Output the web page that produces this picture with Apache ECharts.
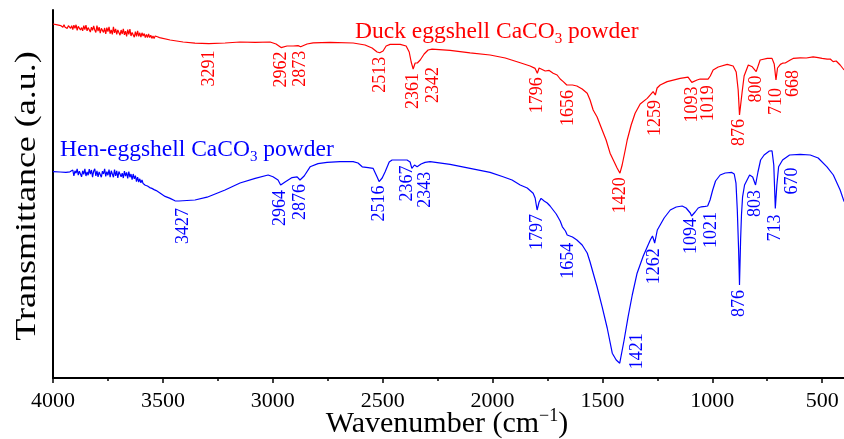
<!DOCTYPE html>
<html>
<head>
<meta charset="utf-8">
<title>FTIR spectra of eggshell CaCO3 powders</title>
<script src="https://cdn.jsdelivr.net/npm/echarts@6.0.0/dist/echarts.min.js"></script>
<style>
  html, body { margin: 0; padding: 0; background: #ffffff; }
  #chart { width: 844px; height: 439px; }
</style>
</head>
<body>
<div id="chart"></div>
<script>
// FTIR spectra (wavenumber in cm^-1, transmittance in arbitrary units, curves offset)
const duckWavenumber = [
  4000, 3980, 3965,
  3960, 3955, 3950, 3945, 3940, 3935, 3930, 3925, 3920, 3915,
  3910, 3905, 3900, 3895, 3890, 3885, 3880, 3875, 3870, 3865,
  3860, 3855, 3850, 3845, 3840, 3835, 3830, 3825, 3820, 3815,
  3810, 3805, 3800, 3795, 3790, 3785, 3780, 3775, 3770, 3765,
  3760, 3755, 3750, 3745, 3740, 3735, 3730, 3725, 3720, 3715,
  3710, 3705, 3700, 3695, 3690, 3685, 3680, 3675, 3670, 3665,
  3660, 3655, 3650, 3645, 3640, 3635, 3630, 3625, 3620, 3615,
  3610, 3605, 3600, 3595, 3590, 3585, 3580, 3575, 3570, 3565,
  3560, 3555, 3550, 3545, 3540, 3535, 3530, 3525, 3520, 3515,
  3467, 3408, 3354, 3291, 3217, 3149, 3080, 3012, 2985, 2962, 2935, 2907, 2885, 2873,
  2844, 2816, 2739, 2634, 2580, 2548, 2525, 2513, 2498, 2484, 2466, 2420, 2393, 2379, 2370, 2361,
  2352, 2347, 2342, 2329, 2311, 2293, 2275, 2193, 2102, 2011, 1942, 1874, 1829, 1806, 1796, 1788,
  1779, 1760, 1742, 1724, 1706, 1692, 1678, 1670, 1662, 1656, 1636, 1616, 1592, 1569, 1556, 1542,
  1524, 1501, 1483, 1465, 1446, 1433, 1420, 1410, 1396, 1387, 1369, 1351, 1328, 1296, 1269, 1259,
  1251, 1237, 1205, 1146, 1110, 1093, 1069, 1055, 1019, 1009, 996, 973, 932, 905, 891, 882,
  876, 864, 855, 836, 818, 800, 782, 750, 728, 718, 710, 703, 690, 680, 674, 668,
  645, 632, 600, 572, 541, 518, 500, 477, 463, 450, 436, 418, 400
];
const duckTransmittance = [
  88.5, 88.3, 88.1,
  88.2, 87.7, 88.3, 87.7, 88.0, 87.4, 88.1, 87.8, 87.4, 88.1,
  87.1, 88.2, 87.4, 88.3, 86.9, 87.9, 88.2, 87.0, 87.6, 86.8,
  88.1, 87.1, 88.2, 86.8, 87.6, 88.1, 86.5, 87.7, 86.9, 88.0,
  87.0, 86.4, 88.1, 86.7, 87.7, 86.2, 87.4, 87.9, 86.4, 87.5,
  86.0, 87.6, 86.6, 87.8, 86.1, 87.0, 85.9, 87.8, 86.3, 87.3,
  85.9, 87.0, 87.5, 85.7, 87.0, 86.0, 87.3, 85.8, 86.7, 85.4,
  87.1, 85.9, 87.2, 85.5, 86.4, 86.8, 85.2, 86.6, 85.4, 86.8,
  85.4, 86.3, 85.2, 86.3, 85.5, 86.1, 85.1, 85.9, 85.1, 86.0,
  85.1, 85.7, 84.9, 85.5, 84.9, 85.5, 85.0, 85.3, 85.0, 85.1,
  84.5, 84, 83.7, 83.6, 83.75, 84, 83.9, 84, 83.5, 82.6, 83, 83, 83.1, 82.8,
  83.5, 83.8, 83.9, 83.75, 83.25, 82.5, 81.5, 81.3, 81.75, 83, 83.4, 83.4, 83, 81.5, 79, 77.25,
  78.75, 78.25, 78.75, 79.5, 81, 82, 82.2, 81.9, 81.3, 80.75, 80, 78.8, 78, 77.4, 76.2, 77.5,
  77.25, 76.75, 76.9, 76.2, 75.75, 74.75, 74.1, 74, 73.25, 73, 73.25, 73, 72.25, 71.2, 69.5, 67,
  65.25, 62, 59.5, 56.2, 54, 52.5, 51.2, 53.25, 57, 59.5, 63.25, 66.2, 68.5, 69.9, 71.6, 70.75,
  72.5, 73.25, 74.1, 74.9, 75.2, 73.9, 74.5, 74.75, 74.7, 75.5, 77, 77.75, 78.4, 78, 76.5, 72,
  65.75, 71.5, 75.5, 78.25, 77.8, 76.6, 79.5, 79.9, 79.9, 78.5, 74.5, 77.5, 78.4, 78.7, 78.25, 78.75,
  79.5, 79.9, 80.05, 80, 80.3, 80.1, 79.9, 79.7, 79.75, 79.1, 79.25, 78.25, 77
];

const henWavenumber = [
  4000, 3968, 3941, 3923,
  3915, 3910, 3905, 3900, 3895, 3890, 3885, 3880, 3875, 3870,
  3865, 3860, 3855, 3850, 3845, 3840, 3835, 3830, 3825, 3820,
  3815, 3810, 3805, 3800, 3795, 3790, 3785, 3780, 3775, 3770,
  3765, 3760, 3755, 3750, 3745, 3740, 3735, 3730, 3725, 3720,
  3715, 3710, 3705, 3700, 3695, 3690, 3685, 3680, 3675, 3670,
  3665, 3660, 3655, 3650, 3645, 3640, 3635, 3630, 3625, 3620,
  3615, 3610, 3605, 3600, 3595, 3590, 3585, 3580, 3575, 3570,
  3565, 3560, 3555, 3550, 3545, 3540, 3535, 3530, 3525, 3520,
  3490, 3467, 3445, 3427, 3354, 3299, 3217, 3149, 3080, 3021, 2999, 2976, 2964, 2944, 2935, 2912, 2889,
  2876, 2857, 2830, 2794, 2753, 2694, 2634, 2612, 2593, 2566, 2543, 2525, 2516, 2502, 2489, 2480,
  2470, 2457, 2420, 2389, 2375, 2367, 2355, 2343, 2325, 2307, 2284, 2193, 2102, 2011, 1952, 1911,
  1874, 1842, 1815, 1806, 1797, 1788, 1779, 1765, 1751, 1738, 1724, 1710, 1692, 1682, 1668, 1660,
  1654, 1636, 1616, 1592, 1569, 1556, 1542, 1524, 1501, 1478, 1455, 1437, 1421, 1401, 1383, 1364,
  1342, 1314, 1282, 1272, 1266, 1262, 1250, 1219, 1191, 1164, 1137, 1119, 1100, 1094, 1078, 1064,
  1050, 1032, 1021, 1010, 998, 985, 964, 941, 911, 900, 892, 886, 880, 876, 871, 867,
  862, 853, 830, 816, 803, 792, 780, 764, 740, 728, 720, 713, 706, 698, 680, 648,
  600, 554, 518, 478, 449, 418, 400
];
const henTransmittance = [
  51.6, 51.5, 51.4, 51.55,
  51.1, 52.0, 50.5, 51.8, 51.2, 52.3, 50.7, 51.7, 52.2, 50.3,
  51.8, 50.9, 52.3, 50.5, 51.5, 50.7, 52.2, 51.0, 52.0, 50.2,
  51.7, 52.3, 50.5, 51.8, 50.3, 51.5, 52.0, 50.2, 51.7, 51.0,
  52.3, 50.4, 51.6, 50.7, 52.1, 50.2, 51.8, 51.3, 50.2, 52.1,
  50.5, 51.8, 50.0, 51.6, 52.0, 50.3, 51.2, 50.0, 51.7, 50.5,
  51.4, 49.9, 51.6, 50.2, 51.0, 49.6, 51.0, 49.8, 50.6, 49.1,
  50.2, 49.0, 49.8, 48.8, 49.5, 48.6, 49.0, 48.2, 48.7, 48.0,
  48.4, 47.6, 47.9, 47.4, 47.6, 47.1, 47.1, 46.85, 46.7, 46.5,
  45.4, 44.9, 44.3, 44.25, 44.5, 45.2, 47, 48.75, 49.9, 50.75, 50.3, 49.5, 48.25, 49, 49.5, 50.1, 50.3,
  49.5, 50.5, 52.8, 53.6, 53.9, 54.1, 54.1, 53.75, 52.8, 52.6, 52.4, 50.25, 49.1, 50, 51.5, 52,
  54, 54.5, 54.5, 54.5, 54, 52.4, 53.25, 52.8, 53.5, 53.9, 54.1, 53.4, 52.4, 51.4, 50.3, 49.5,
  48.25, 47.5, 46.2, 45, 42, 44, 44.9, 44.25, 43.75, 43, 42, 41, 39.25, 37.8, 36.75, 35.75,
  35.3, 35.25, 34.5, 33.25, 31.25, 29, 26.25, 22.75, 17.8, 12.5, 6.2, 4.5, 3.7, 9.5, 15.3, 20.75,
  26.2, 30.5, 34.5, 35.5, 34.5, 33.7, 37, 40, 42, 42.75, 43, 42.5, 41.25, 40.5, 41.5, 42.5,
  42.8, 42.9, 43, 44.5, 47, 49.25, 50.75, 51.25, 51.4, 51, 48.7, 42, 32, 23.25, 34.5, 40.75,
  45.3, 48.25, 50.75, 50.25, 48.25, 51.5, 54.5, 55.75, 56.75, 56.8, 53.25, 42.4, 48.25, 52.8, 54.5, 55.75,
  55.9, 55.75, 55, 52.8, 50.75, 47, 44.1
];

// Assigned band positions (cm^-1)
const duckPeaks = [3291, 2962, 2873, 2513, 2361, 2342, 1796, 1656, 1420, 1259, 1093, 1019, 876, 800, 710, 668];
const henPeaks = [3427, 2964, 2876, 2516, 2367, 2343, 1797, 1654, 1421, 1262, 1094, 1021, 876, 803, 713, 670];

const xTickStep = 500;

const SERIF = '"Liberation Serif", "Times New Roman", serif';
const RED = '#ff0000';
const BLUE = '#0000ff';

// Pixel nudges for individual band labels (dx: sideways, gap: distance below the curve)
const duckLabelNudge = {
  3291: { gap: 7 }, 2342: { dx: 16 }, 1259: { gap: 5 }, 1019: { gap: 6 },
  710: { gap: 8 }, 668: { dx: 8, gap: 7 }
};
const henLabelNudge = {
  3427: { dx: 4, gap: 7 }, 2964: { gap: 5 }, 2367: { dx: -5, gap: -3 }, 2343: { dx: 8, gap: 5 },
  1654: { gap: 6 }, 1421: { dx: 18, gap: -30 }, 1262: { gap: 5 }, 1094: { gap: 2 },
  1021: { dx: 4, gap: 6 }, 876: { gap: 5 }, 803: { gap: 5 }, 713: { gap: 6 }, 670: { dx: 7, gap: 9 }
};

function pairs(xs, ys) {
  return xs.map((x, i) => [x, ys[i]]);
}

// Linear lookup of the spectrum value at a given wavenumber (arrays run high -> low)
function valueAt(xs, ys, w) {
  for (let i = 0; i < xs.length - 1; i++) {
    const a = xs[i], b = xs[i + 1];
    if (w <= a && w >= b) {
      const t = a === b ? 0 : (a - w) / (a - b);
      return ys[i] + t * (ys[i + 1] - ys[i]);
    }
  }
  return ys[ys.length - 1];
}

function spectrumSeries(name, xs, ys, color) {
  return {
    type: 'line',
    name: name,
    data: pairs(xs, ys),
    showSymbol: false,
    symbol: 'none',
    smooth: false,
    lineStyle: { color: color, width: 1.2 },
    z: 3
  };
}

function bandLabelSeries(name, peaks, xs, ys, color, nudge) {
  return {
    type: 'custom',
    name: name,
    coordinateSystem: 'cartesian2d',
    clip: false,
    silent: true,
    z: 5,
    data: peaks.map(w => [w, valueAt(xs, ys, w)]),
    renderItem: function (params, api) {
      const w = api.value(0);
      const p = api.coord([w, api.value(1)]);
      const n = nudge[w] || {};
      return {
        type: 'text',
        x: p[0] + (n.dx || 0),
        y: p[1] + (n.gap != null ? n.gap : 4),
        rotation: Math.PI / 2,
        style: {
          text: String(w),
          fill: color,
          font: '18px ' + SERIF,
          align: 'right',
          verticalAlign: 'middle'
        }
      };
    }
  };
}

function sampleTitle(text, color, left, top) {
  return {
    text: '{a|' + text + ' CaCO}{s|3}{a| powder}',
    left: left,
    top: top,
    padding: 0,
    textStyle: {
      rich: {
        a: { fontFamily: SERIF, fontSize: 23.5, fontWeight: 'normal', lineHeight: 30, color: color },
        s: { fontFamily: SERIF, fontSize: 15, fontWeight: 'normal', lineHeight: 14, color: color, verticalAlign: 'bottom' }
      }
    }
  };
}

const chart = echarts.init(document.getElementById('chart'), null, { renderer: 'canvas' });

chart.setOption({
  animation: false,
  backgroundColor: '#ffffff',
  title: [
    sampleTitle('Duck eggshell', RED, 355, 17),
    sampleTitle('Hen-eggshell', BLUE, 60, 135)
  ],
  graphic: [
    {
      // vertical axis title, stretched along its reading direction
      type: 'text',
      x: 27,
      y: 196,
      rotation: Math.PI / 2,
      scaleX: 1.2,
      silent: true,
      style: {
        text: 'Transmittance (a.u.)',
        font: '30px ' + SERIF,
        fill: '#000',
        align: 'center',
        verticalAlign: 'middle'
      }
    },
    {
      type: 'text',
      x: 447,
      y: 424,
      silent: true,
      style: {
        text: '{a|Wavenumber (cm}{sup|\u22121}{a|)}',
        align: 'center',
        verticalAlign: 'middle',
        rich: {
          a: { fontFamily: SERIF, fontSize: 30, lineHeight: 34, fill: '#000' },
          sup: { fontFamily: SERIF, fontSize: 18, lineHeight: 22, fill: '#000', verticalAlign: 'top' }
        }
      }
    }
  ],
  grid: {
    left: 53,
    top: 10,
    bottom: 61,
    right: -88,
    containLabel: false,
    outerBoundsMode: 'none'
  },
  xAxis: {
    type: 'value',
    inverse: true,
    min: 0,
    max: 4000,
    interval: xTickStep,
    axisLine: { show: true, onZero: false, lineStyle: { color: '#000', width: 2 } },
    axisTick: { show: true, inside: false, length: 5, lineStyle: { color: '#000', width: 1.5 } },
    minorTick: { show: true, splitNumber: 2, length: 3, lineStyle: { color: '#000', width: 1.5 } },
    axisLabel: {
      show: true,
      margin: 12,
      fontFamily: SERIF,
      fontSize: 22,
      color: '#000',
      showMinLabel: true,
      showMaxLabel: true,
      formatter: function (v) { return String(v); }
    },
    splitLine: { show: false }
  },
  yAxis: {
    type: 'value',
    min: 0,
    max: 92,
    axisLine: { show: true, onZero: false, lineStyle: { color: '#000', width: 2 } },
    axisTick: { show: false },
    axisLabel: { show: false },
    splitLine: { show: false }
  },
  series: [
    spectrumSeries('Duck eggshell CaCO3 powder', duckWavenumber, duckTransmittance, RED),
    spectrumSeries('Hen-eggshell CaCO3 powder', henWavenumber, henTransmittance, BLUE),
    bandLabelSeries('Duck bands', duckPeaks, duckWavenumber, duckTransmittance, RED, duckLabelNudge),
    bandLabelSeries('Hen bands', henPeaks, henWavenumber, henTransmittance, BLUE, henLabelNudge)
  ]
});
</script>
</body>
</html>
